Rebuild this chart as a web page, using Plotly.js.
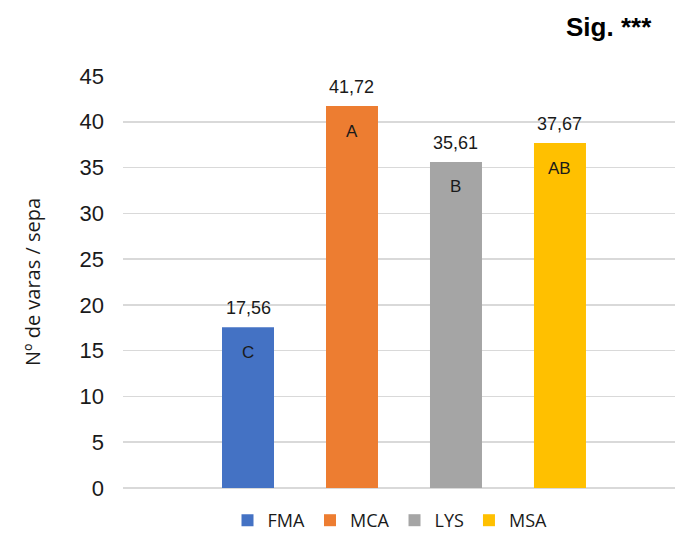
<!DOCTYPE html>
<html>
<head>
<meta charset="utf-8">
<script src="https://cdn.plot.ly/plotly-3.0.1.min.js"></script>
<style>html,body{margin:0;padding:0;background:#fff;}#chart{width:675px;height:539px;}</style>
</head>
<body>
<div id="chart"></div>
<script>
const categories = ["FMA", "MCA", "LYS", "MSA"];
const values = [17.56, 41.72, 35.61, 37.67];
const letters = ["C", "A", "B", "AB"];
const colors = ["#4472C4", "#ED7D31", "#A5A5A5", "#FFC000"];
const yTicks = [0, 5, 10, 15, 20, 25, 30, 35, 40, 45];

const fmt = v => v.toFixed(2).replace('.', ',');

const traces = categories.map((c, i) => ({
  type: 'bar',
  name: c,
  x: [c],
  y: [values[i]],
  marker: {color: colors[i]},
  hoverinfo: 'name+y'
}));

const annotations = [];
categories.forEach((c, i) => {
  annotations.push({
    x: c, y: values[i], xref: 'x', yref: 'y',
    text: fmt(values[i]), showarrow: false,
    yanchor: 'middle', yshift: 19,
    font: {family: 'Arial, Liberation Sans, sans-serif', size: 18, color: '#1a1a1a'}
  });
  annotations.push({
    x: c, y: values[i], xref: 'x', yref: 'y',
    text: letters[i], showarrow: false,
    yanchor: 'middle', yshift: -25,
    font: {family: 'Arial, Liberation Sans, sans-serif', size: 17, color: '#1a1a1a'}
  });
});
annotations.push({
  xref: 'paper', yref: 'paper',
  x: (654 - 123) / 552, y: (488 - 27) / 412,
  xanchor: 'right', yanchor: 'middle',
  text: '<b>Sig. ***</b>', showarrow: false,
  font: {family: 'Arial, Liberation Sans, sans-serif', size: 26, color: '#000'}
});

const layout = {
  width: 675, height: 539,
  margin: {l: 123, r: 0, t: 76, b: 51, pad: 0},
  paper_bgcolor: '#fff', plot_bgcolor: '#fff',
  barmode: 'overlay',
  bargap: 0.5,
  showlegend: true,
  legend: {
    orientation: 'h', x: (390 - 123) / 552, xanchor: 'center',
    y: (488 - 521) / 412, yanchor: 'middle',
    font: {family: 'Open Sans, Noto Sans, sans-serif', size: 18, color: '#1a1a1a'},
    itemwidth: 30, tracegroupgap: 0
  },
  xaxis: {
    type: 'category',
    categoryorder: 'array', categoryarray: categories,
    range: [-1.202, 4.106],
    showticklabels: false, showgrid: false, zeroline: false, showline: false,
    ticks: '', fixedrange: true
  },
  yaxis: {
    range: [0, 45],
    tickvals: yTicks,
    ticktext: yTicks.map(String),
    showgrid: true, gridcolor: '#d9d9d9', gridwidth: 1.5,
    zeroline: true, zerolinecolor: '#d9d9d9', zerolinewidth: 1.5,
    showline: false, ticks: '',
    ticklabelstandoff: 18,
    tickfont: {family: 'Arial, Liberation Sans, sans-serif', size: 22, color: '#1a1a1a'},
    title: {
      text: 'Nº de varas / sepa',
      standoff: 33,
      font: {family: 'Open Sans, Noto Sans, sans-serif', size: 20, color: '#1a1a1a'}
    },
    automargin: false,
    fixedrange: true
  },
  annotations: annotations
};

Plotly.newPlot('chart', traces, layout, {displayModeBar: false, staticPlot: true});
</script>
</body>
</html>
